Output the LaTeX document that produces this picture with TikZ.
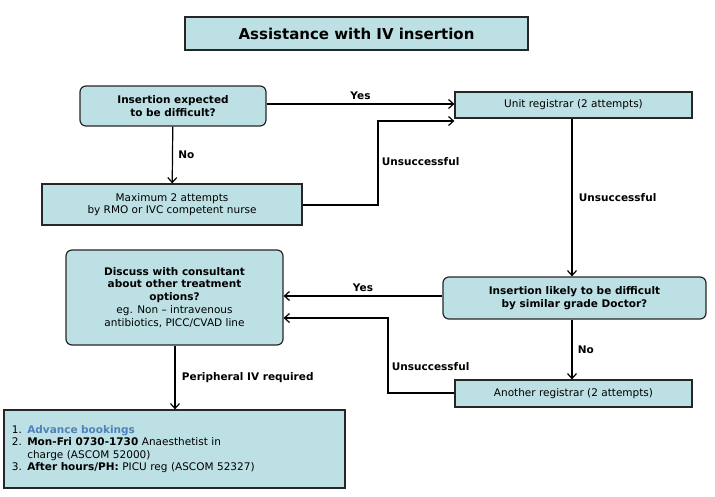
\documentclass[tikz,border=0pt]{standalone}
\usepackage{fontspec}
\setmainfont{DejaVu Sans}
\usetikzlibrary{arrows.meta}
\definecolor{boxfill}{HTML}{BCE0E3}
\definecolor{bluetxt}{HTML}{4F81BD}
\begin{document}
\begin{tikzpicture}[x=1pt,y=-1pt,
  box/.style={draw=black!85,line width=1.2pt,fill=boxfill,inner sep=0pt,font=\fontsize{10.5}{12.5}\selectfont,align=center},
  rbox/.style={box,rounded corners=6pt},
  arr/.style={line width=1.2pt,-{Straight Barb[length=5pt,width=9pt]}},
  lab/.style={font=\bfseries\fontsize{10.5}{12.5}\selectfont}]
\useasboundingbox (0,0) rectangle (715,496);
\node[box,minimum width=343pt,minimum height=33pt,font=\bfseries\fontsize{15}{18}\selectfont] (title) at (356.5,33.5) {Assistance with IV insertion};
\node[rbox,minimum width=186pt,minimum height=40pt,font=\bfseries\fontsize{10.5}{12.5}\selectfont] (q1) at (173,106) {Insertion expected\\to be difficult?};
\node[box,minimum width=237pt,minimum height=26pt] (unit) at (573.5,105) {Unit registrar (2 attempts)};
\node[box,minimum width=260pt,minimum height=41pt] (max) at (172,204.5) {Maximum 2 attempts\\by RMO or IVC competent nurse};
\node[rbox,minimum width=217pt,minimum height=95pt] (disc) at (174.5,297.5) {\textbf{Discuss with consultant}\\\textbf{about other treatment}\\\textbf{options?}\\[1pt]eg. Non -- intravenous\\antibiotics, PICC/CVAD line};
\node[rbox,minimum width=263pt,minimum height=42pt,font=\bfseries\fontsize{10.5}{12.5}\selectfont] (q2) at (574.5,298) {Insertion likely to be difficult\\by similar grade Doctor?};
\node[box,minimum width=237pt,minimum height=27pt] (another) at (573.5,393.5) {Another registrar (2 attempts)};
\node[box,minimum width=341pt,minimum height=78pt,align=left,text width=325pt] (book) at (174.5,449) {1. \textcolor{bluetxt}{\textbf{Advance bookings}}\\2. \textbf{Mon-Fri 0730-1730} Anaesthetist in\\\phantom{2. }charge (ASCOM 52000)\\3. \textbf{After hours/PH:} PICU reg (ASCOM 52327)};
\draw[arr] (q1.east|-0,104) -- node[lab,above]{Yes} (unit.west|-0,104);
\draw[arr] (q1) -- node[lab,right,xshift=2pt]{No} (max);
\coordinate (c1) at (378,205);
\coordinate (c2) at (378,121);
\draw[arr] (max.east|-c1) -- (c1) -- node[lab,right,pos=0.5,yshift=1pt]{Unsuccessful} (c2) -- (unit.west|-c2);
\draw[arr] (unit.south-|572,0) -- node[lab,right,xshift=3pt]{Unsuccessful} (q2.north-|572,0);
\draw[arr] (q2.west|-0,296) -- node[lab,above]{Yes} (disc.east|-0,296);
\draw[arr] (q2.south-|572,0) -- node[lab,right,xshift=2pt]{No} (another.north-|572,0);
\coordinate (c3) at (388,393);
\coordinate (c4) at (388,318);
\draw[arr] (another.west|-c3) -- (c3) -- node[lab,right,pos=0.35]{Unsuccessful} (c4) -- (disc.east|-c4);
\draw[arr] (disc.south-|175,0) -- node[lab,right,xshift=3pt]{Peripheral IV required} (book.north-|175,0);
\end{tikzpicture}
\end{document}
